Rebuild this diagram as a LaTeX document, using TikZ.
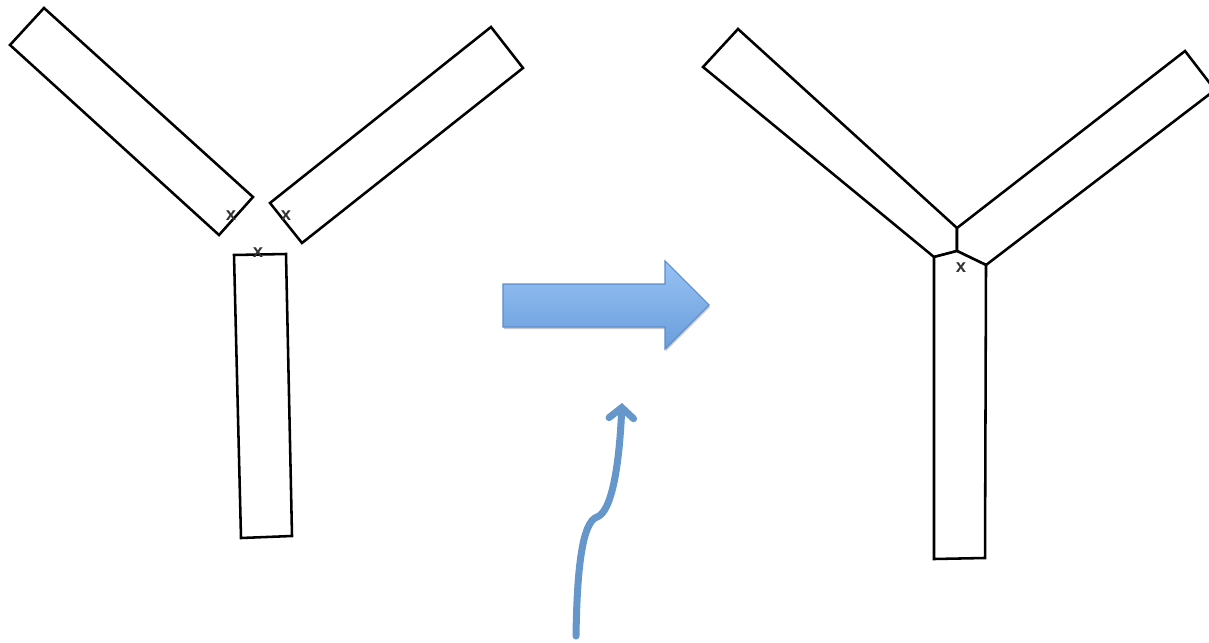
\documentclass[tikz,border=0pt]{standalone}
\usepackage{fontspec}
\setsansfont{Liberation Sans}
\usetikzlibrary{arrows.meta,shadows}
\definecolor{armfillA}{HTML}{97C1F3}
\definecolor{armfillB}{HTML}{6A9EDC}
\definecolor{armdraw}{HTML}{5A8DCC}
\definecolor{curvecol}{HTML}{6697CB}
\definecolor{markcol}{HTML}{333333}
\tikzset{
  bar/.style={draw=black, line width=1.45pt, line join=miter, fill=white},
  mark x/.style={font=\sffamily\bfseries\fontsize{10.5}{10.5}\selectfont, text=markcol, inner sep=0pt},
  block arrow/.style={draw=armdraw, line width=0.6pt, top color=armfillA, bottom color=armfillB,
     drop shadow={shadow xshift=0.5pt, shadow yshift=-1.2pt, opacity=0.35, fill=black!60}},
  curve arrow/.style={draw=curvecol, line width=4pt, line cap=round,
     -{Straight Barb[length=6pt,width=14pt,line cap=round]}}
}
\begin{document}
\begin{tikzpicture}[x=0.02cm,y=-0.02cm]
\clip (0,0) rectangle (1209,642);
\fill[white] (0,0) rectangle (1209,642);

% ---------- left: three separate bars ----------
\draw[bar] (44,8) -- (253,197) -- (219,235) -- (10,45) -- cycle;
\draw[bar] (491,27) -- (523,68) -- (302,243) -- (270,203) -- cycle;
\draw[bar] (234,255) -- (286,254) -- (292,536) -- (241,538) -- cycle;
\node[mark x] (xa) at (231,216) {x};
\node[mark x] (xb) at (286,216) {x};
\node[mark x] (xc) at (258,253) {x};

% ---------- block arrow ----------
\path[block arrow] (503,284) -- (665,284) -- (665,261) -- (709,305) -- (665,349) -- (665,327) -- (503,327) -- cycle;

% ---------- curved arrow ----------
\coordinate (cstart) at (576,636);
\coordinate (cend) at (622,403);
\draw[curve arrow] (cstart) .. controls (577,570) and (582,522) .. (597,517)
   .. controls (611,512) and (619,470) .. (cend);

% ---------- right: joined Y ----------
\draw[bar] (957,228) -- (738,29) -- (703,67) -- (934,257) -- (957,251) -- cycle;
\draw[bar] (957,228) -- (1185,51) -- (1215,90) -- (986,265) -- (957,251) -- cycle;
\draw[bar] (934,257) -- (957,251) -- (986,265) -- (985,558) -- (934,559) -- cycle;
\node[mark x] (xd) at (961,268) {x};
\end{tikzpicture}
\end{document}
